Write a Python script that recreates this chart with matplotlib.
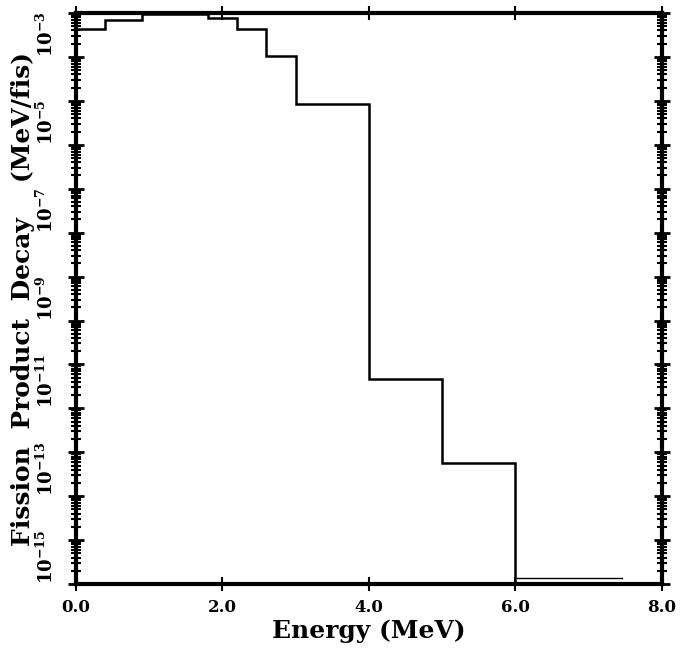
import numpy as np
import matplotlib
matplotlib.use("Agg")
import matplotlib.pyplot as plt
from matplotlib.ticker import LogLocator, FuncFormatter, NullFormatter

plt.rcParams["font.family"] = "DejaVu Serif"
plt.rcParams["font.weight"] = "bold"
plt.rcParams["mathtext.fontset"] = "dejavuserif"

# energy bin edges (MeV) and decay energy per bin (MeV/fis)
bin_edges = [0.0, 0.4, 0.9, 1.8, 2.2, 2.6, 3.0, 4.0, 5.0, 6.0]
decay_values = [4.4e-3, 7.1e-3, 9.6e-3, 7.7e-3, 4.4e-3, 1.07e-3, 8.7e-5, 4.6e-11, 5.8e-13]

# faint tail beyond 6 MeV
tail_x = [6.0, 7.45]
tail_y = [1.4e-15, 1.4e-15]

x_ticks = [0, 2, 4, 6, 8]
x_tick_labels = ["0.0", "2.0", "4.0", "6.0", "8.0"]

fig = plt.figure(figsize=(6.83, 6.49), dpi=100)
ax = fig.add_axes([0.111, 0.100, 0.858, 0.880])

ax.stairs(decay_values, bin_edges, baseline=1e-20, color="black", linewidth=1.8)
ax.plot(tail_x, tail_y, color="black", linewidth=1.0)

ax.set_yscale("log")
ax.set_xlim(0, 8)
ax.set_ylim(1e-15, 1e-2)

ax.set_xticks(x_ticks)
ax.set_xticklabels(x_tick_labels, fontsize=12, fontweight="bold")

ax.yaxis.set_major_locator(LogLocator(base=10, numticks=30))
ax.yaxis.set_minor_locator(LogLocator(base=10, subs=np.arange(2, 10), numticks=30))
ax.yaxis.set_minor_formatter(NullFormatter())


def odd_decades(v, pos):
    e = int(round(np.log10(v)))
    if e % 2 != 0 and e <= -3:
        return r"$\mathbf{10^{%d}}$" % e
    return ""


ax.yaxis.set_major_formatter(FuncFormatter(odd_decades))
for lab in ax.get_yticklabels():
    lab.set_fontsize(13)

ax.tick_params(axis="y", which="major", direction="inout", length=12, width=2,
               right=True, pad=8)
ax.tick_params(axis="y", which="minor", direction="inout", length=7, width=1.5,
               right=True)
ax.tick_params(axis="x", which="major", direction="inout", length=10, width=1.5,
               top=True, pad=6)

fig.canvas.draw()
for lab in ax.get_yticklabels():
    lab.set_rotation(90)
    lab.set_va("bottom")

for side in ["left", "right", "bottom", "top"]:
    ax.spines[side].set_linewidth(3)

ax.set_xlabel("Energy (MeV)", fontsize=18, fontweight="bold", labelpad=2)
ax.set_ylabel("Fission  Product  Decay    (MeV/fis)", fontsize=18,
              fontweight="bold", labelpad=0)

fig.savefig("out.png", dpi=100)
